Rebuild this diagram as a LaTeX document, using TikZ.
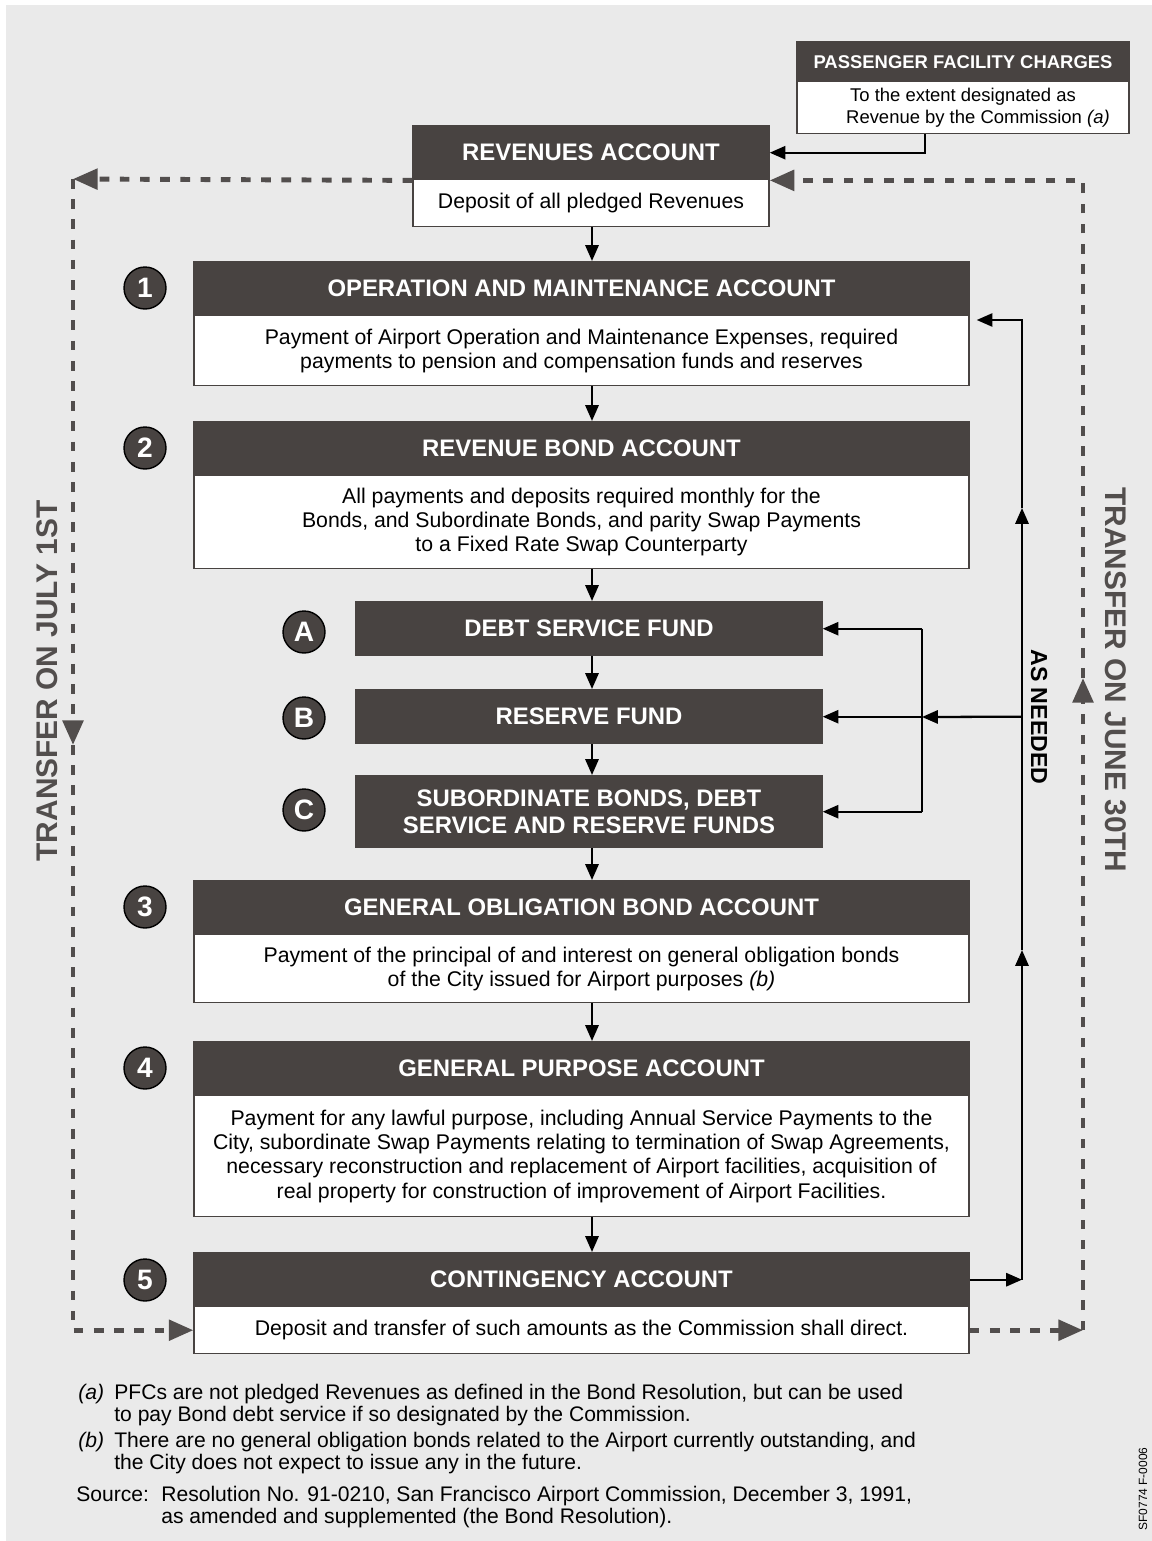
\documentclass[tikz,border=0pt]{standalone}
\usepackage{fontspec}
\setmainfont{Liberation Sans}
\usetikzlibrary{arrows.meta}
\definecolor{boxgray}{RGB}{72,67,65}
\definecolor{paper}{RGB}{234,234,234}
\definecolor{dashgray}{RGB}{82,78,77}

\begin{document}
\begin{tikzpicture}[x=0.02cm,y=-0.02cm]
\tikzstyle{hdr}=[draw=boxgray, line width=0.8pt, fill=boxgray, text=white, inner sep=0pt, anchor=north, align=center, font=\bfseries\fontsize{13.6}{15.4}\selectfont]
\tikzstyle{bdy}=[draw=boxgray, line width=0.8pt, fill=white, inner sep=0pt, anchor=north, align=center, font=\fontsize{12.1}{13.8}\selectfont]
\tikzstyle{num}=[circle, draw=black, line width=0.8pt, fill=boxgray, text=white, minimum size=0.84cm, inner sep=0pt, font=\bfseries\fontsize{16}{16}\selectfont]
\tikzstyle{arr}=[line width=1.3pt, -{Triangle[length=9pt,width=7.5pt]}]
\tikzstyle{ln}=[line width=1.3pt]
\tikzstyle{dsh}=[dashgray, line width=2.8pt, dash pattern=on 5.5pt off 6pt]
\tikzstyle{dsharr}=[dsh, -{Triangle[length=14pt,width=11.5pt]}]
\tikzstyle{note}=[anchor=north west, inner sep=0pt, align=left, font=\fontsize{12}{12.3}\selectfont]
\fill[paper] (6,5) rectangle (1152,1541);
\useasboundingbox (0,0) rectangle (1152,1541);
% accounts
\node (pfc) [hdr, minimum width=6.64cm, minimum height=0.8cm, font=\bfseries\fontsize{10.5}{12}\selectfont] at (963,41) {PASSENGER FACILITY CHARGES};
\node (pfcb) [bdy, minimum width=6.64cm, minimum height=1.04cm, font=\fontsize{10.5}{12}\selectfont] at (963,81) {To the extent designated as\\\hspace*{17pt}Revenue by the Commission \textit{(a)}};
\node (rev) [hdr, minimum width=7.12cm, minimum height=1.08cm] at (591,125) {REVENUES ACCOUNT};
\node (revb) [bdy, minimum width=7.12cm, minimum height=0.94cm] at (591,179) {Deposit of all pledged Revenues};
\node (om) [hdr, minimum width=15.5cm, minimum height=1.08cm] at (581.5,261) {OPERATION AND MAINTENANCE ACCOUNT};
\node (omb) [bdy, minimum width=15.5cm, minimum height=1.4cm] at (581.5,315) {Payment of Airport Operation and Maintenance Expenses, required\\payments to pension and compensation funds and reserves};
\node (rb) [hdr, minimum width=15.5cm, minimum height=1.08cm] at (581.5,421) {REVENUE BOND ACCOUNT};
\node (rbb) [bdy, minimum width=15.5cm, minimum height=1.86cm] at (581.5,475) {All payments and deposits required monthly for the\\Bonds, and Subordinate Bonds, and parity Swap Payments\\to a Fixed Rate Swap Counterparty};
\node (dsf) [hdr, minimum width=9.32cm, minimum height=1.08cm] at (589,601) {DEBT SERVICE FUND};
\node (rf) [hdr, minimum width=9.32cm, minimum height=1.08cm] at (589,689) {RESERVE FUND};
\node (sub) [hdr, minimum width=9.32cm, minimum height=1.44cm] at (589,775) {SUBORDINATE BONDS, DEBT\\SERVICE AND RESERVE FUNDS};
\node (go) [hdr, minimum width=15.5cm, minimum height=1.08cm] at (581.5,880) {GENERAL OBLIGATION BOND ACCOUNT};
\node (gob) [bdy, minimum width=15.5cm, minimum height=1.36cm] at (581.5,934) {Payment of the principal of and interest on general obligation bonds\\of the City issued for Airport purposes \textit{(b)}};
\node (gp) [hdr, minimum width=15.5cm, minimum height=1.08cm] at (581.5,1041) {GENERAL PURPOSE ACCOUNT};
\node (gpb) [bdy, minimum width=15.5cm, minimum height=2.42cm] at (581.5,1095) {Payment for any lawful purpose, including Annual Service Payments to the\\City, subordinate Swap Payments relating to termination of Swap Agreements,\\necessary reconstruction and replacement of Airport facilities, acquisition of\\real property for construction of improvement of Airport Facilities.};
\node (cont) [hdr, minimum width=15.5cm, minimum height=1.08cm] at (581.5,1252) {CONTINGENCY ACCOUNT};
\node (contb) [bdy, minimum width=15.5cm, minimum height=0.94cm] at (581.5,1306) {Deposit and transfer of such amounts as the Commission shall direct.};
% numbers
\node (n1) [num] at (145,288) {1};
\node (n2) [num] at (145,448) {2};
\node (na) [num] at (304,632) {A};
\node (nb) [num] at (304,718) {B};
\node (nc) [num] at (304,810) {C};
\node (n3) [num] at (145,907) {3};
\node (n4) [num] at (145,1068) {4};
\node (n5) [num] at (145,1280) {5};
% flow down the middle
\coordinate (sp) at (592,0);
\draw[arr] (revb.south -| sp) -- (om.north -| sp);
\draw[arr] (omb.south -| sp) -- (rb.north -| sp);
\draw[arr] (rbb.south -| sp) -- (dsf.north -| sp);
\draw[arr] (dsf.south -| sp) -- (rf.north -| sp);
\draw[arr] (rf.south -| sp) -- (sub.north -| sp);
\draw[arr] (sub.south -| sp) -- (go.north -| sp);
\draw[arr] (gob.south -| sp) -- (gp.north -| sp);
\draw[arr] (gpb.south -| sp) -- (cont.north -| sp);
\coordinate (pfcdrop) at (925,0);
\draw[arr] (pfcb.south -| pfcdrop) |- (rev.east);
% as needed
\coordinate (an) at (1022,0);
\coordinate (up1) at (1022,950);
\coordinate (up2) at (1022,508);
\coordinate (br) at (922,717);
\draw[arr] (cont.east) -- (cont.east -| an);
\draw[arr] (cont.east -| an) -- (up1);
\draw[arr] (up1) -- (up2);
\draw[arr, shorten >=4pt] (up2) |- ([yshift=-0.1cm]omb.north east);
\draw[arr] (rf.east -| an) -- (br);
\draw[ln] (dsf.east -| br) -- (sub.east -| br);
\draw[arr] (dsf.east -| br) -- (dsf.east);
\draw[arr] (rf.east -| br) -- (rf.east);
\draw[arr] (sub.east -| br) -- (sub.east);
\node (asneed) [rotate=-90, font=\bfseries\fontsize{13.2}{13.2}\selectfont] at (1039,717) {AS NEEDED};
% transfers
\coordinate (jl1) at (73,179);
\coordinate (jl2) at (73,745);
\coordinate (jn1) at (1083,678);
\draw[dsharr] (rev.south west) -- (jl1);
\draw[dsharr] (jl1) -- (jl2);
\draw[dsharr] (jl2) |- (contb.west);
\draw[dsharr] (contb.east) -- (contb.east -| jn1);
\draw[dsharr] (contb.east -| jn1) -- (jn1);
\draw[dsharr] (jn1) |- (rev.south east);
\node (july) [rotate=90, text=dashgray, font=\bfseries\fontsize{17}{17}\selectfont] at (47,681) {TRANSFER ON JULY 1ST};
\node (june) [rotate=-90, text=dashgray, font=\bfseries\fontsize{17}{17}\selectfont] at (1116,680) {TRANSFER ON JUNE 30TH};
% notes
\node (fa) [note] at (78,1384) {\textit{(a)}};
\node (fat) [note] at (114,1384) {PFCs are not pledged Revenues as defined in the Bond Resolution, but can be used\\to pay Bond debt service if so designated by the Commission.};
\node (fb) [note] at (78,1432) {\textit{(b)}};
\node (fbt) [note] at (114,1432) {There are no general obligation bonds related to the Airport currently outstanding, and\\the City does not expect to issue any in the future.};
\node (src) [note] at (76,1486) {Source:};
\node (srct) [note] at (161,1486) {Resolution No. 91-0210, San Francisco Airport Commission, December 3, 1991,\\as amended and supplemented (the Bond Resolution).};
\node (code) [rotate=90, font=\fontsize{6.8}{7}\selectfont] at (1143,1489) {SF0774 F-0006};
\end{tikzpicture}
\end{document}
